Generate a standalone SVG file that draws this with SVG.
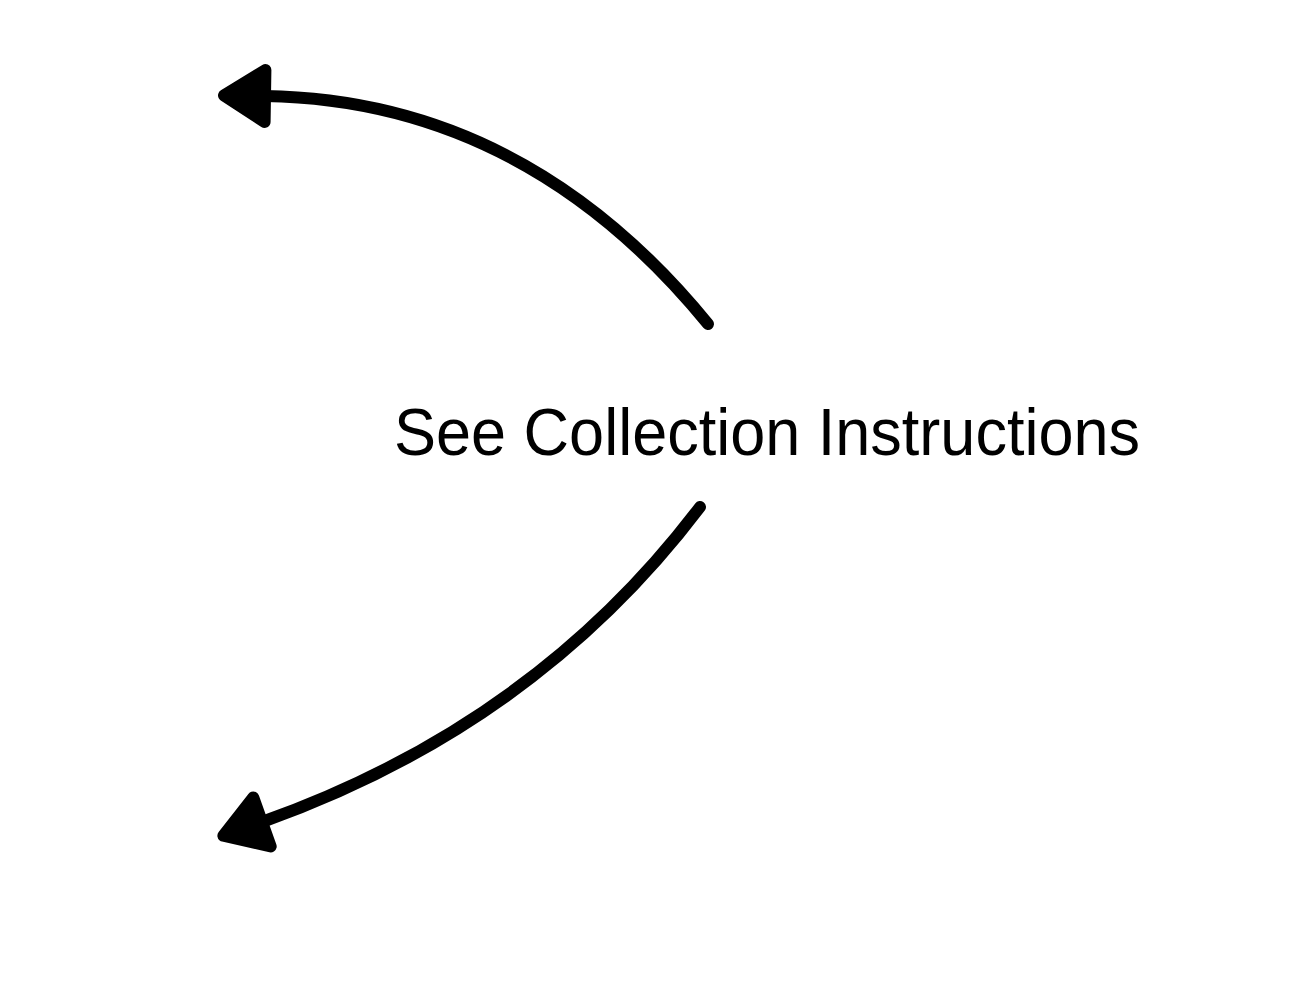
<svg xmlns="http://www.w3.org/2000/svg" width="1289" height="1000" viewBox="0 0 1289 1000">
<style>
.conn{fill:none;stroke:#000;stroke-width:12;stroke-linecap:round}
.head{fill:#000;stroke:#000;stroke-width:12;stroke-linejoin:round}
.lbl{font-family:"Liberation Sans",Arial,sans-serif;font-size:67px;fill:#000}
</style>
<defs>
<marker id="arr" markerUnits="userSpaceOnUse" viewBox="0 0 60 60" markerWidth="60" markerHeight="60" refX="12" refY="30" orient="auto" overflow="visible">
<path class="head" d="M53,30 L12,4 L12,56 Z"/>
</marker>
</defs>
<rect width="1289" height="1000" fill="#fff"/>
<g id="label">
<text class="lbl" x="394" y="455" textLength="746" lengthAdjust="spacingAndGlyphs">See Collection Instructions</text>
</g>
<g id="connectors">
<path class="conn" d="M708,324 Q525,100 265,96" marker-end="url(#arr)"/>
<path class="conn" d="M700,507 Q535,725 262,822" marker-end="url(#arr)"/>
</g>
</svg>
